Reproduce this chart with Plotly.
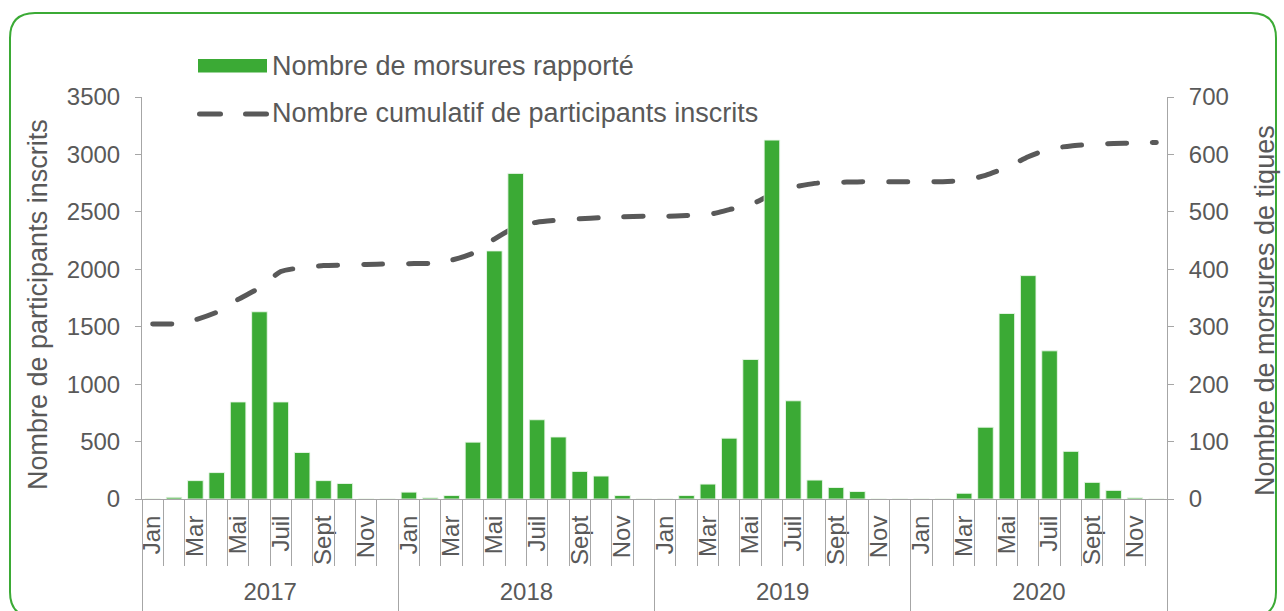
import plotly.graph_objects as go

# ---------------- data ----------------
years = ["2017", "2018", "2019", "2020"]
months = ["Jan", "Fév", "Mar", "Avr", "Mai", "Juin", "Juil", "Août", "Sept", "Oct", "Nov", "Déc"]
month_labels_shown = ["Jan", "", "Mar", "", "Mai", "", "Juil", "", "Sept", "", "Nov", ""]

bites_2017 = [0, 3, 32, 46, 169, 326, 169, 81, 32, 27, 0, 0]
bites_2018 = [12, 2, 6, 99, 432, 567, 138, 108, 48, 40, 6, 0]
bites_2019 = [0, 6, 26, 106, 243, 625, 171, 33, 20, 13, 0, 0]
bites_2020 = [0, 0, 10, 125, 323, 389, 258, 83, 29, 15, 2, 0]

cumul_2017 = [1523, 1526, 1561, 1626, 1738, 1838, 1980, 2015, 2032, 2037, 2042, 2046]
cumul_2018 = [2049, 2052, 2080, 2140, 2263, 2367, 2410, 2428, 2440, 2449, 2456, 2462]
cumul_2019 = [2462, 2468, 2475, 2519, 2562, 2653, 2714, 2748, 2757, 2761, 2763, 2763]
cumul_2020 = [2763, 2763, 2774, 2818, 2887, 2980, 3048, 3074, 3087, 3095, 3100, 3104]

bar_name = "Nombre de morsures rapporté"
line_name = "Nombre cumulatif de participants inscrits"
y_left_title = "Nombre de participants inscrits"
y_right_title = "Nombre de morsures de tiques"

# ---------------- build ----------------
bites = bites_2017 + bites_2018 + bites_2019 + bites_2020
cumul = cumul_2017 + cumul_2018 + cumul_2019 + cumul_2020
n = len(bites)
xs = list(range(n))
tick_text = month_labels_shown * len(years)

W, H = 1284, 611
L, R, T, B = 142, 1167, 97, 499  # plot area in pixels


def px(x):
    return (x - L) / (R - L)


def py(y):
    return (B - y) / (B - T)


GREEN = "#3BAA35"
DARK = "#595959"
AXIS = "#A6A6A6"
FONT = "Liberation Sans, Arial, sans-serif"

fig = go.Figure()
fig.add_trace(go.Bar(
    x=xs, y=bites, name=bar_name, yaxis="y2",
    marker=dict(color=GREEN, line=dict(color="rgba(235,247,234,0.9)", width=1)),
    showlegend=False,
))
fig.add_trace(go.Scatter(
    x=xs, y=cumul, name=line_name, yaxis="y", mode="lines",
    line=dict(color=DARK, width=5, dash="19px,26px", shape="spline", smoothing=0.6),
    showlegend=False,
))
# invisible helper traces so that the overlay category axes get drawn
for ax in ["x2", "x3", "x4"]:
    fig.add_trace(go.Scatter(x=[xs[0]], y=[None], xaxis=ax, yaxis="y", mode="markers",
                             marker=dict(opacity=0), showlegend=False, hoverinfo="skip"))

xr = [-0.5, n - 0.5]
month_bounds = [i - 0.5 for i in range(n + 1)]
year_bounds = [i * 12 - 0.5 for i in range(len(years) + 1)]
year_centers = [i * 12 + 5.5 for i in range(len(years))]

fig.update_layout(
    width=W, height=H,
    margin=dict(l=L, r=W - R, t=T, b=H - B, autoexpand=False),
    paper_bgcolor="white", plot_bgcolor="white",
    font=dict(family=FONT, color=DARK, size=24),
    bargap=0.27,
    showlegend=False,
    xaxis=dict(
        range=xr, tickmode="array", tickvals=xs, ticktext=tick_text,
        tickangle=-90, ticks="", showline=True, linecolor=AXIS, linewidth=1,
        showgrid=False, zeroline=False, tickfont=dict(size=24, color=DARK),
        ticklabelstandoff=6, automargin=False,
    ),
    xaxis2=dict(
        range=xr, overlaying="x", anchor="y", side="bottom",
        tickmode="array", tickvals=month_bounds, ticks="outside", ticklen=66,
        tickcolor=AXIS, tickwidth=1, showticklabels=False, showgrid=False,
        zeroline=False, showline=False, automargin=False,
    ),
    xaxis3=dict(
        range=xr, overlaying="x", anchor="y", side="bottom",
        tickmode="array", tickvals=year_bounds, ticks="outside", ticklen=115,
        tickcolor=AXIS, tickwidth=1, showticklabels=False, showgrid=False,
        zeroline=False, showline=False, automargin=False,
    ),
    xaxis4=dict(
        range=xr, overlaying="x", anchor="y", side="bottom",
        tickmode="array", tickvals=year_centers, ticktext=years, ticks="",
        ticklabelstandoff=76, showgrid=False, zeroline=False, showline=False,
        tickfont=dict(size=24, color=DARK), automargin=False,
    ),
    yaxis=dict(
        range=[0, 3500], tickmode="array", tickvals=list(range(0, 3501, 500)),
        ticks="outside", ticklen=6, tickcolor=AXIS, showline=True,
        linecolor=AXIS, showgrid=False, zeroline=False,
        tickfont=dict(size=24, color=DARK), ticklabelstandoff=10, automargin=False,
    ),
    yaxis2=dict(
        range=[0, 700], tickmode="array", tickvals=list(range(0, 701, 100)),
        overlaying="y", side="right", anchor="x",
        ticks="outside", ticklen=6, tickcolor=AXIS, showline=True,
        linecolor=AXIS, showgrid=False, zeroline=False,
        tickfont=dict(size=24, color=DARK), ticklabelstandoff=10, automargin=False,
    ),
)

# Axis titles
fig.add_annotation(text=y_left_title, x=px(38), y=py(305), xref="paper", yref="paper",
                   textangle=-90, showarrow=False, font=dict(size=27, color=DARK),
                   xanchor="center", yanchor="middle")
fig.add_annotation(text=y_right_title, x=px(1265), y=py(311), xref="paper", yref="paper",
                   textangle=-90, showarrow=False, font=dict(size=27, color=DARK),
                   xanchor="center", yanchor="middle")

# Custom legend
fig.add_shape(type="rect", xref="paper", yref="paper",
              x0=px(198), x1=px(267), y0=py(59), y1=py(72.5),
              fillcolor=GREEN, line=dict(width=0))
fig.add_annotation(text=bar_name, x=px(270), y=py(66), xref="paper", yref="paper",
                   showarrow=False, xanchor="left", yanchor="middle",
                   font=dict(size=27, color=DARK))
for a, b in [(199.5, 220.5), (245.5, 266.5)]:
    fig.add_shape(type="line", xref="paper", yref="paper",
                  x0=px(a), x1=px(b), y0=py(114), y1=py(114),
                  line=dict(color=DARK, width=5))
fig.add_annotation(text=line_name, x=px(270), y=py(113), xref="paper", yref="paper",
                   showarrow=False, xanchor="left", yanchor="middle",
                   font=dict(size=27, color=DARK))

# Rounded green frame
x0, y0, x1, y1, r = px(10), py(13), px(1276), py(617), 25
rx = r / (R - L)
ry = r / (B - T)
path = (f"M {x0+rx},{y0} L {x1-rx},{y0} Q {x1},{y0} {x1},{y0-ry} "
        f"L {x1},{y1+ry} Q {x1},{y1} {x1-rx},{y1} L {x0+rx},{y1} "
        f"Q {x0},{y1} {x0},{y1+ry} L {x0},{y0-ry} Q {x0},{y0} {x0+rx},{y0} Z")
fig.add_shape(type="path", xref="paper", yref="paper", path=path,
              line=dict(color=GREEN, width=2), fillcolor="rgba(0,0,0,0)", layer="below")

post = """
document.body.style.margin = '0';
document.body.style.overflow = 'hidden';
var gd = document.getElementById('{plot_id}');
function caps(){
  gd.querySelectorAll('.scatterlayer .js-line, .shapelayer path').forEach(function(p){
    p.style.strokeLinecap = 'round';
  });
}
caps();
if (gd.on) { gd.on('plotly_afterplot', caps); }
"""
fig.write_html("out.html", post_script=post, config={"displayModeBar": False})
